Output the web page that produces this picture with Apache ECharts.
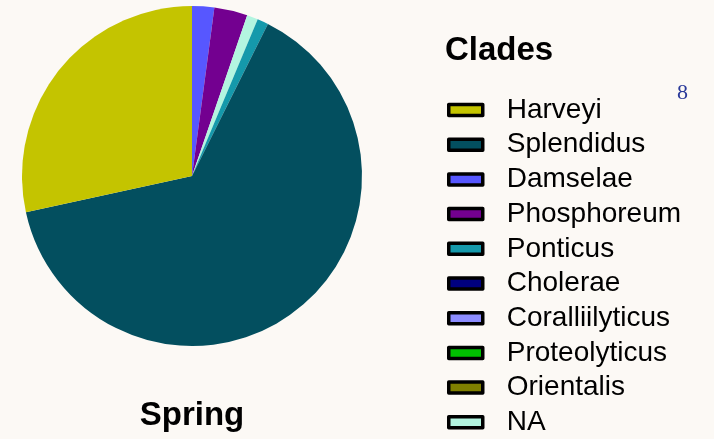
<!DOCTYPE html>
<html>
<head>
<meta charset="utf-8">
<script src="https://cdn.jsdelivr.net/npm/echarts@6/dist/echarts.min.js"></script>
<style>
  html, body { margin: 0; padding: 0; background: #fcf9f5; }
  #container { width: 714px; height: 439px; }
</style>
</head>
<body>
<div id="container"></div>
<script>
    // clades in legend order
    var clades = ['Harveyi', 'Splendidus', 'Damselae', 'Phosphoreum', 'Ponticus',
                  'Cholerae', 'Coralliilyticus', 'Proteolyticus', 'Orientalis', 'NA'];
    var cladeColors = ['#c4c400', '#034f5f', '#5757ff', '#730090', '#1599ab',
                       '#00007f', '#8c8cff', '#00c000', '#7f7f00', '#b3f5e0'];
    // order in which the slices go round (clockwise from 12 o'clock)
    var sliceOrder = ['Damselae', 'Phosphoreum', 'NA', 'Ponticus', 'Splendidus', 'Harveyi',
                      'Cholerae', 'Coralliilyticus', 'Proteolyticus', 'Orientalis'];
    var sliceCounts = [2, 3, 1, 1, 61, 27, 0, 0, 0, 0];

    var dom = document.getElementById('container');
    var myChart = echarts.init(dom);

    var pieData = [];
    for (var i = 0; i < sliceOrder.length; i++) {
        pieData.push({
            name: sliceOrder[i],
            value: sliceCounts[i],
            itemStyle: { color: cladeColors[clades.indexOf(sliceOrder[i])] }
        });
    }

    var option = {
        backgroundColor: '#fcf9f5',
        animation: false,
        title: [
            {
                text: 'Spring',
                left: 192, top: 399,
                textAlign: 'center',
                padding: 0,
                textStyle: { fontFamily: 'Liberation Sans', fontWeight: 'bold', fontSize: 33, color: '#000' }
            },
            {
                text: 'Clades',
                left: 445, top: 34,
                padding: 0,
                textStyle: { fontFamily: 'Liberation Sans', fontWeight: 'bold', fontSize: 33, color: '#000' }
            }
        ],
        legend: {
            orient: 'vertical',
            left: 442, top: 91,
            height: 348,
            padding: 5,
            data: clades,
            icon: 'rect',
            itemWidth: 34, itemHeight: 11,
            itemGap: 6.7,
            itemStyle: { borderColor: '#000', borderWidth: 3.5 },
            textStyle: { fontFamily: 'Liberation Sans', fontSize: 28, color: '#000', padding: [0, 0, 0, 19] },
            selectedMode: false
        },
        graphic: [
            {
                type: 'text', left: 677, top: 82,
                style: { text: '8', font: '22px "Liberation Serif"', fill: '#2a3a9a' }
            }
        ],
        series: [
            {
                name: 'Clades',
                type: 'pie',
                center: [192, 176],
                radius: 170,
                startAngle: 90,
                clockwise: true,
                label: { show: false },
                labelLine: { show: false },
                emphasis: { disabled: true },
                data: pieData
            }
        ]
    };

    if (option && typeof option === 'object') {
        myChart.setOption(option);
    }
</script>
</body>
</html>
